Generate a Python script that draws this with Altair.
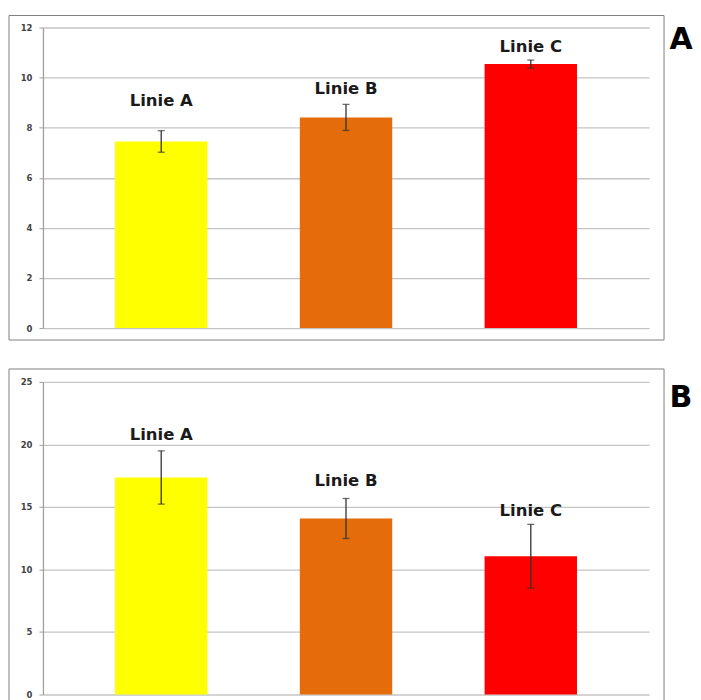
import altair as alt
import pandas as pd

lines = ["Linie A", "Linie B", "Linie C"]
colors = ["#FFFF00", "#E46C0A", "#FF0000"]

# Panel A
a_mean = [7.45, 8.41, 10.54]
a_err = [0.43, 0.52, 0.16]
a_label = [9.05, 9.56, 11.24]
a_ticks = [0, 2, 4, 6, 8, 10, 12]

# Panel B
b_mean = [17.36, 14.08, 11.06]
b_err = [2.13, 1.6, 2.55]
b_label = [20.74, 17.08, 14.68]
b_ticks = [0, 5, 10, 15, 20, 25]

GRID = "#c4c4c4"
BORDER = "#808080"


def panel(mean, err, label, ticks, height, letter, box_top, box_bottom, letter_y):
    df = pd.DataFrame({
        "line": lines,
        "mean": mean,
        "lo": [m - e for m, e in zip(mean, err)],
        "hi": [m + e for m, e in zip(mean, err)],
        "lab": label,
    })
    ymax = ticks[-1]
    yscale = alt.Scale(domain=[0, ymax], nice=False, zero=True)
    x = alt.X("line:N", sort=lines, axis=None,
              scale=alt.Scale(paddingInner=0.5, paddingOuter=0.39))
    base = alt.Chart(df)
    bars = base.mark_bar().encode(
        x=x,
        y=alt.Y("mean:Q", scale=yscale,
                axis=alt.Axis(values=ticks, title=None, grid=True, gridColor=GRID,
                              gridWidth=1.3, domainColor="#a0a0a0", domainWidth=1.3,
                              tickColor="#a0a0a0", tickSize=4, labelFont="DejaVu Sans",
                              labelFontWeight="bold", labelFontSize=8.5,
                              labelColor="#444444", labelPadding=7)),
        color=alt.Color("line:N", scale=alt.Scale(domain=lines, range=colors), legend=None),
    )
    rule = base.mark_rule(color="#333333", strokeWidth=1.3).encode(
        x=x, y=alt.Y("lo:Q", scale=yscale), y2="hi:Q")
    cap_lo = base.mark_tick(color="#333333", size=7, thickness=1.3, orient="horizontal").encode(
        x=x, y=alt.Y("lo:Q", scale=yscale))
    cap_hi = base.mark_tick(color="#333333", size=7, thickness=1.3, orient="horizontal").encode(
        x=x, y=alt.Y("hi:Q", scale=yscale))
    text = base.mark_text(font="DejaVu Sans", fontWeight="bold", fontSize=16.5,
                          color="#1a1a1a", baseline="middle").encode(
        x=x, y=alt.Y("lab:Q", scale=yscale), text="line:N")

    one = alt.Chart(pd.DataFrame({"t": [letter]}))
    left = one.mark_rule(color=BORDER, strokeWidth=1).encode(
        x=alt.value(-34), y=alt.value(box_top), y2=alt.value(box_bottom))
    right = one.mark_rule(color=BORDER, strokeWidth=1).encode(
        x=alt.value(622), y=alt.value(box_top), y2=alt.value(box_bottom))
    top = one.mark_rule(color=BORDER, strokeWidth=1).encode(
        x=alt.value(-34), x2=alt.value(622), y=alt.value(box_top))
    lt = one.mark_text(font="DejaVu Sans", fontWeight="bold", fontSize=30,
                       color="#000000", baseline="middle", align="center").encode(
        x=alt.value(639), y=alt.value(letter_y), text="t:N")
    layers = [bars, rule, cap_lo, cap_hi, text, left, right, top, lt]
    return alt.layer(*layers).properties(width=607, height=height)


pa = panel(a_mean, a_err, a_label, a_ticks, 301, "A", -12, 313, 13)
pa = alt.layer(pa, alt.Chart(pd.DataFrame({"t": [0]})).mark_rule(color=BORDER, strokeWidth=1).encode(
    x=alt.value(-34), x2=alt.value(622), y=alt.value(313))).properties(width=607, height=301)
pb = panel(b_mean, b_err, b_label, b_ticks, 313, "B", -13, 330, 16)

chart = alt.vconcat(pa, pb, spacing=54, bounds="flush").properties(
    padding={"left": 0, "top": 6, "right": 0, "bottom": 0}
).configure_view(stroke=None)

chart.save("out.html", embed_options={"renderer": "svg", "actions": False})
